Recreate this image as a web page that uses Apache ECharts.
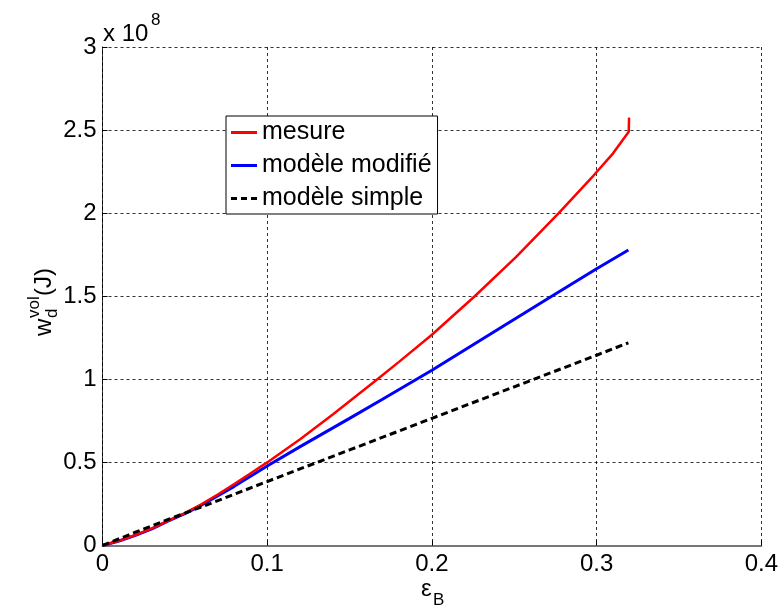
<!DOCTYPE html>
<html><head><meta charset="utf-8">
<script src="https://cdn.jsdelivr.net/npm/echarts@6/dist/echarts.min.js"></script>
<style>html,body{margin:0;padding:0;background:#fff}#c{width:781px;height:611px}</style>
</head><body><div id="c"></div>
<script>
// values in units of 1e8 J
var xTicks = [0, 0.1, 0.2, 0.3, 0.4];
var yTicks = [0, 0.5, 1, 1.5, 2, 2.5, 3];
var seriesNames = ['mesure', 'modèle modifié', 'modèle simple'];
var epsMesure = [0, 0.01, 0.02, 0.03, 0.04, 0.05, 0.06, 0.07, 0.08, 0.09, 0.1, 0.12, 0.14, 0.1669, 0.18, 0.2, 0.226, 0.251, 0.277, 0.298, 0.31, 0.3195, 0.3197];
var wMesure   = [0, 0.028, 0.063, 0.103, 0.15, 0.195, 0.248, 0.307, 0.37, 0.435, 0.50, 0.64, 0.79, 1.0, 1.105, 1.268, 1.50, 1.735, 2.0, 2.225, 2.36, 2.49, 2.575];
var epsModifie = [0, 0.01, 0.02, 0.03, 0.04, 0.05, 0.06, 0.08, 0.1, 0.12, 0.15, 0.17, 0.2, 0.24, 0.271, 0.3, 0.3193];
var wModifie   = [0, 0.027, 0.061, 0.10, 0.148, 0.192, 0.242, 0.356, 0.478, 0.595, 0.765, 0.88, 1.055, 1.30, 1.49, 1.665, 1.778];
var epsSimple = [0, 0.02, 0.04, 0.06, 0.08, 0.1, 0.15, 0.2, 0.25, 0.3, 0.3193];
var wSimple   = [0, 0.08, 0.157, 0.232, 0.308, 0.385, 0.575, 0.765, 0.955, 1.145, 1.22];

function pairs(xs, ys){ return xs.map(function(x,i){ return [x, ys[i]]; }); }
var FONT = 'Liberation Sans, Arial, sans-serif';
var chart = echarts.init(document.getElementById('c'), null, {renderer:'canvas'});
var gridLine = {show:true, lineStyle:{color:'#000', type:[3,3], width:1, opacity:0.8}};
var solidIcon = 'path://M0,0h26v3h-26z';
var dashIcon = 'path://M0,0h6v3h-6z M10,0h6v3h-6z M20,0h6v3h-6z';
chart.setOption({
  animation:false,
  backgroundColor:'#fff',
  grid:{left:102.5, right:14, top:47, bottom:65.5, containLabel:false},
  xAxis:{type:'value', min:xTicks[0], max:xTicks[xTicks.length-1], interval:0.1,
    axisLine:{show:true, onZero:false, lineStyle:{color:'#777', width:2}},
    axisTick:{show:true, inside:true, length:5, lineStyle:{color:'#000'}},
    axisLabel:{color:'#000', fontSize:24, fontFamily:FONT, margin:7,
      formatter:function(v){ return String(Math.round(v*10)/10); }},
    splitLine:gridLine},
  yAxis:{type:'value', min:yTicks[0], max:yTicks[yTicks.length-1], interval:0.5,
    axisLine:{show:true, lineStyle:{color:'#000', width:1, type:[3,3]}},
    axisTick:{show:true, inside:true, length:5, lineStyle:{color:'#000'}},
    axisLabel:{color:'#000', fontSize:24, fontFamily:FONT, margin:6,
      formatter:function(v){ return String(Math.round(v*10)/10); }},
    splitLine:gridLine},
  legend:{show:true, orient:'vertical', left:226, top:116,
    data:[{name:seriesNames[0], icon:solidIcon}, {name:seriesNames[1], icon:solidIcon}, {name:seriesNames[2], icon:dashIcon}],
    backgroundColor:'#fff', borderColor:'#000', borderWidth:1,
    padding:[4,6,3,5], itemGap:8, itemWidth:26, itemHeight:14,
    textStyle:{color:'#000', fontSize:25, fontFamily:FONT}},
  series:[
    {name:seriesNames[0], type:'line', data:pairs(epsMesure, wMesure), showSymbol:false, symbol:'none',
      lineStyle:{color:'#ff0000', width:2.5}, itemStyle:{color:'#ff0000'}, z:3},
    {name:seriesNames[1], type:'line', data:pairs(epsModifie, wModifie), showSymbol:false, symbol:'none',
      lineStyle:{color:'#0000ff', width:3}, itemStyle:{color:'#0000ff'}, z:2},
    {name:seriesNames[2], type:'line', data:pairs(epsSimple, wSimple), showSymbol:false, symbol:'none',
      lineStyle:{color:'#000', width:3, type:[7,4]}, itemStyle:{color:'#000'}, z:4}
  ],
  graphic:[
    {type:'text', left:103, top:22, style:{text:'x 10', fill:'#000', font:'24px '+FONT}},
    {type:'text', left:151, top:12, style:{text:'8', fill:'#000', font:'17px '+FONT}},
    {type:'text', left:421, top:577, style:{text:'ε', fill:'#000', font:'24px '+FONT}},
    {type:'text', left:433, top:592, style:{text:'B', fill:'#000', font:'17px '+FONT}},
    {type:'group', x:56, y:336, rotation:Math.PI/2, children:[
      {type:'text', x:0, y:0, style:{text:'w', fill:'#000', font:'24px '+FONT, verticalAlign:'bottom'}},
      {type:'text', x:18, y:5, style:{text:'d', fill:'#000', font:'17px '+FONT, verticalAlign:'bottom'}},
      {type:'text', x:18, y:-13, style:{text:'vol', fill:'#000', font:'17px '+FONT, verticalAlign:'bottom'}},
      {type:'text', x:40, y:0, style:{text:'(J)', fill:'#000', font:'24px '+FONT, verticalAlign:'bottom'}}
    ]}
  ]
});
</script></body></html>
